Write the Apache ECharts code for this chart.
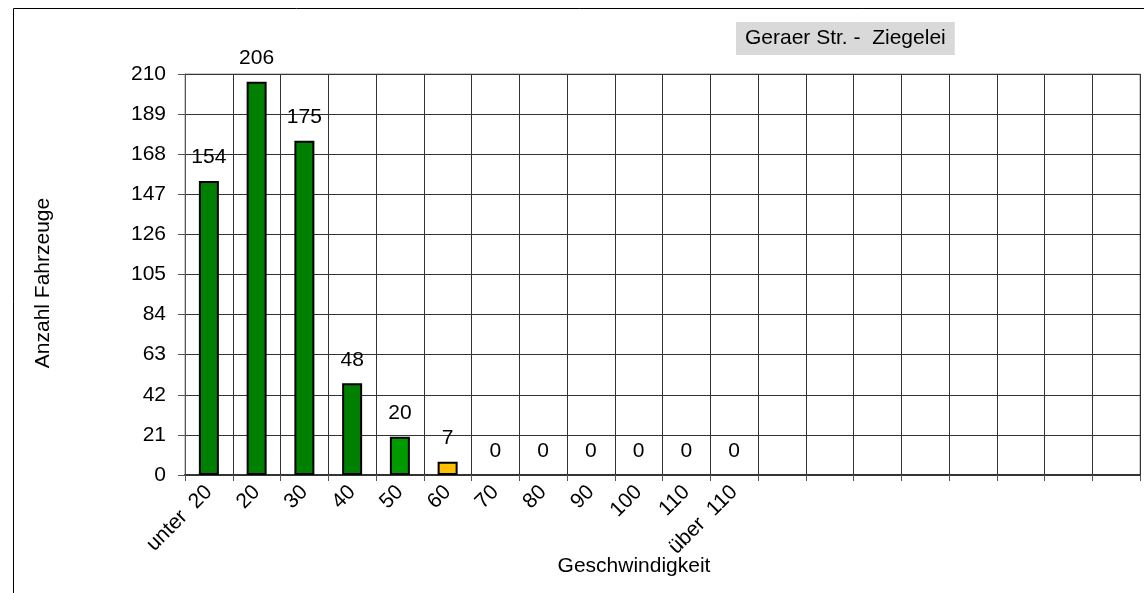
<!DOCTYPE html>
<html><head><meta charset="utf-8">
<script src="https://cdn.jsdelivr.net/npm/echarts@6/dist/echarts.min.js"></script>
<style>html,body{margin:0;padding:0;background:#fff}#c{width:1144px;height:593px}</style>
</head><body><div id="c"></div>
<script>
const categories = ['unter  20','20','30','40','50','60','70','80','90','100','110','über  110','','','','','','','',''];
const values = [154,206,175,48,20,7,0,0,0,0,0,0,null,null,null,null,null,null,null,null];
const yTicks = {min:0, max:210, interval:21};
const titleText = 'Geraer Str. -  Ziegelei';
const yName = 'Anzahl Fahrzeuge';
const xName = 'Geschwindigkeit';

const FONT = 'Liberation Sans, Arial, sans-serif';
const FS = 21;
function barColor(i){ if(i===5) return '#FFC000'; if(i===4) return '#009900'; return '#008000'; }

const chart = echarts.init(document.getElementById('c'), null, {renderer:'canvas'});
chart.setOption({
  animation:false,
  backgroundColor:'#fff',
  title:{text:titleText, left:736, top:22, padding:[5,9,5,9], backgroundColor:'#d9d9d9',
    textStyle:{fontFamily:FONT, fontSize:FS, fontWeight:'normal', color:'#000', lineHeight:23}},
  graphic:[
    {type:'polyline', shape:{points:[[13.5,600],[13.5,8.5],[1150,8.5]]}, style:{stroke:'#000', lineWidth:1, fill:null}, silent:true},
    {type:'text', style:{text:xName, x:634, y:566, textAlign:'center', textVerticalAlign:'middle', font:FS+'px '+FONT, fill:'#000'}, silent:true},
    {type:'text', x:43, y:283, rotation:Math.PI/2, style:{text:yName, x:0, y:0, textAlign:'center', textVerticalAlign:'middle', font:FS+'px '+FONT, fill:'#000'}, silent:true}
  ],
  grid:{left:185, right:4, top:74, bottom:118, show:true, borderColor:'#999', borderWidth:1},
  xAxis:{type:'category', data:categories,
    axisLine:{lineStyle:{color:'#333', width:2}},
    axisTick:{show:true, length:6, lineStyle:{color:'#555'}},
    splitLine:{show:true, interval:0, lineStyle:{color:'#333', width:1}},
    axisLabel:{interval:0, rotate:45, fontSize:FS, fontFamily:FONT, color:'#000', margin:14}
  },
  yAxis:{type:'value', min:yTicks.min, max:yTicks.max, interval:yTicks.interval,
    axisLine:{show:true, lineStyle:{color:'#555'}},
    axisTick:{show:true, length:7, lineStyle:{color:'#555'}},
    splitLine:{show:true, lineStyle:{color:'#333', width:1}},
    axisLabel:{fontSize:FS, fontFamily:FONT, color:'#000', margin:19}
  },
  series:[{type:'bar', barWidth:20,
    data: values.map((v,i)=> v===null ? null : {value:v, itemStyle:{color:barColor(i), borderWidth: v>0 ? 2 : 0}}),
    itemStyle:{borderColor:'#000', borderWidth:2},
    label:{show:true, position:'top', distance:13, fontSize:FS, fontFamily:FONT, color:'#000'}
  }]
});
</script></body></html>
